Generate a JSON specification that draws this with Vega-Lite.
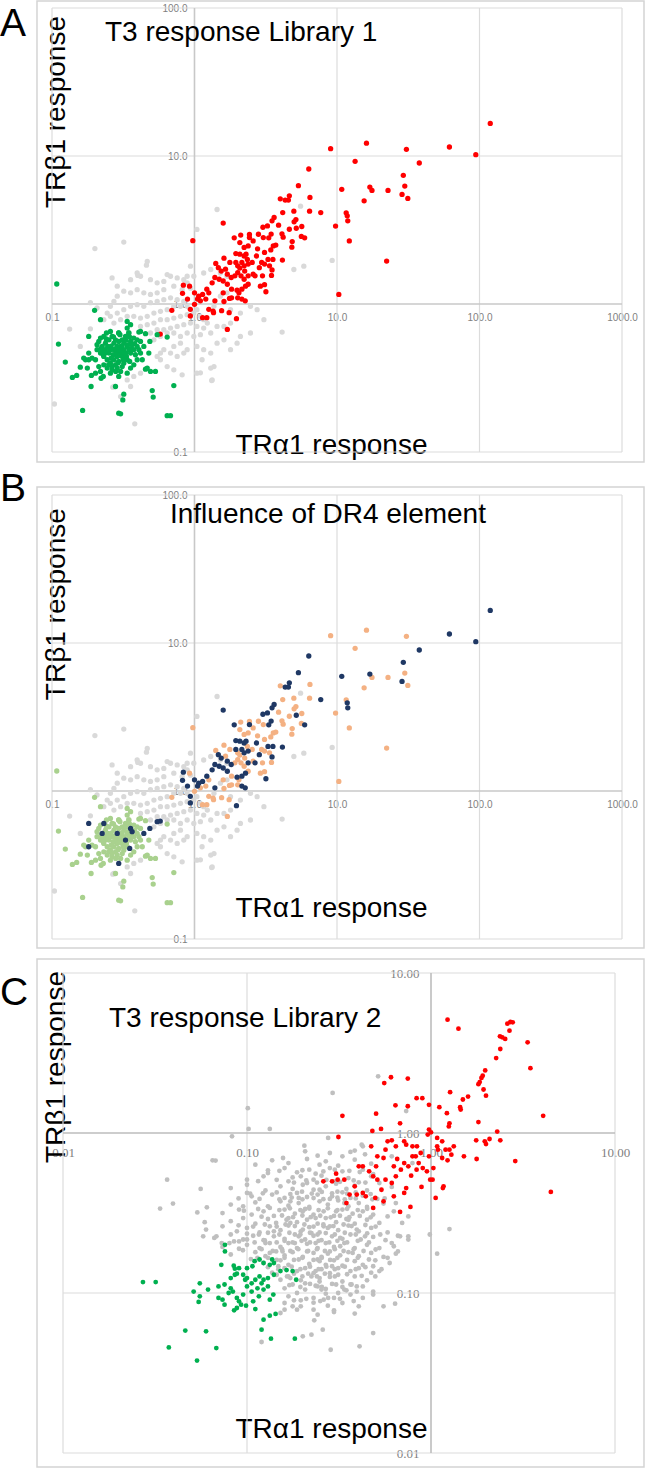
{
  "$schema": "https://vega.github.io/schema/vega-lite/v6.json",
  "background": "white",
  "width": 646,
  "height": 1469,
  "autosize": {"type": "none"},
  "padding": 0,
  "resolve": {
    "scale": {"x": "independent", "y": "independent", "color": "independent"},
    "axis": {"x": "independent", "y": "independent"}
  },
  "config": {
    "view": {"stroke": null},
    "axis": {"labelFont": "Liberation Sans", "titleFont": "Liberation Sans"},
    "text": {"font": "Liberation Sans"}
  },
  "datasets": {
    "grid1": [
      {"x": 0.1, "x2": 0.1, "y": 0.1, "y2": 100, "kind": "grid"},
      {"x": 10, "x2": 10, "y": 0.1, "y2": 100, "kind": "grid"},
      {"x": 100, "x2": 100, "y": 0.1, "y2": 100, "kind": "grid"},
      {"x": 1000, "x2": 1000, "y": 0.1, "y2": 100, "kind": "grid"},
      {"x": 0.1, "x2": 1000, "y": 0.1, "y2": 0.1, "kind": "grid"},
      {"x": 0.1, "x2": 1000, "y": 10, "y2": 10, "kind": "grid"},
      {"x": 0.1, "x2": 1000, "y": 100, "y2": 100, "kind": "grid"},
      {"x": 1, "x2": 1, "y": 0.1, "y2": 100, "kind": "axis"},
      {"x": 0.1, "x2": 1000, "y": 1, "y2": 1, "kind": "axis"}
    ],
    "grid2": [
      {"x": 0.01, "x2": 0.01, "y": 0.01, "y2": 10, "kind": "grid"},
      {"x": 0.1, "x2": 0.1, "y": 0.01, "y2": 10, "kind": "grid"},
      {"x": 10, "x2": 10, "y": 0.01, "y2": 10, "kind": "grid"},
      {"x": 0.01, "x2": 10, "y": 0.01, "y2": 0.01, "kind": "grid"},
      {"x": 0.01, "x2": 10, "y": 0.1, "y2": 0.1, "kind": "grid"},
      {"x": 0.01, "x2": 10, "y": 10, "y2": 10, "kind": "grid"},
      {"x": 1, "x2": 1, "y": 0.01, "y2": 10, "kind": "axis"},
      {"x": 0.01, "x2": 10, "y": 1, "y2": 1, "kind": "axis"}
    ],
    "lib1": [
      {"x":0.2,"y":2.37,"a":"none","b":"none"},{"x":0.319,"y":2.62,"a":"none","b":"none"},{"x":1.44,"y":4.35,"a":"none","b":"none"},{"x":1.04,"y":3.19,"a":"none","b":"none"},
      {"x":0.466,"y":1.94,"a":"none","b":"none"},{"x":0.46,"y":1.83,"a":"none","b":"none"},{"x":0.396,"y":1.62,"a":"none","b":"none"},{"x":0.4,"y":1.56,"a":"none","b":"none"},
      {"x":0.264,"y":1.5,"a":"none","b":"none"},{"x":0.287,"y":1.32,"a":"none","b":"none"},{"x":0.356,"y":1.46,"a":"none","b":"none"},{"x":0.418,"y":1.54,"a":"none","b":"none"},
      {"x":0.643,"y":1.58,"a":"none","b":"none"},{"x":0.679,"y":1.54,"a":"none","b":"none"},{"x":0.756,"y":1.5,"a":"none","b":"none"},{"x":0.491,"y":1.46,"a":"none","b":"none"},
      {"x":0.547,"y":1.39,"a":"none","b":"none"},{"x":0.609,"y":1.42,"a":"none","b":"none"},{"x":0.841,"y":1.46,"a":"none","b":"none"},{"x":0.888,"y":1.39,"a":"none","b":"none"},
      {"x":0.937,"y":1.28,"a":"none","b":"none"},{"x":0.819,"y":1.25,"a":"none","b":"none"},{"x":0.716,"y":1.32,"a":"none","b":"none"},{"x":0.609,"y":1.25,"a":"none","b":"none"},
      {"x":0.547,"y":1.19,"a":"none","b":"none"},{"x":0.491,"y":1.16,"a":"none","b":"none"},{"x":0.441,"y":1.19,"a":"none","b":"none"},{"x":0.396,"y":1.25,"a":"none","b":"none"},
      {"x":0.356,"y":1.19,"a":"none","b":"none"},{"x":0.319,"y":1.22,"a":"none","b":"none"},{"x":0.287,"y":1.13,"a":"none","b":"none"},{"x":0.272,"y":1.04,"a":"none","b":"none"},
      {"x":0.257,"y":0.964,"a":"none","b":"none"},{"x":0.186,"y":1.02,"a":"none","b":"none"},{"x":0.207,"y":0.94,"a":"none","b":"none"},{"x":0.244,"y":0.869,"a":"none","b":"none"},
      {"x":0.287,"y":0.869,"a":"none","b":"none"},{"x":0.319,"y":0.916,"a":"none","b":"none"},{"x":0.356,"y":0.964,"a":"none","b":"none"},{"x":0.396,"y":0.99,"a":"none","b":"none"},
      {"x":0.441,"y":0.964,"a":"none","b":"none"},{"x":0.491,"y":1.02,"a":"none","b":"none"},{"x":0.547,"y":1.04,"a":"none","b":"none"},{"x":0.609,"y":1.07,"a":"none","b":"none"},
      {"x":0.679,"y":1.1,"a":"none","b":"none"},{"x":0.756,"y":1.07,"a":"none","b":"none"},{"x":0.841,"y":1.04,"a":"none","b":"none"},{"x":0.888,"y":0.964,"a":"none","b":"none"},
      {"x":0.797,"y":0.964,"a":"none","b":"none"},{"x":0.716,"y":0.964,"a":"none","b":"none"},{"x":0.643,"y":0.916,"a":"none","b":"none"},{"x":0.577,"y":0.892,"a":"none","b":"none"},
      {"x":0.519,"y":0.869,"a":"none","b":"none"},{"x":0.466,"y":0.825,"a":"none","b":"none"},{"x":0.418,"y":0.804,"a":"none","b":"none"},{"x":0.375,"y":0.825,"a":"none","b":"none"},
      {"x":0.337,"y":0.825,"a":"none","b":"none"},{"x":0.303,"y":0.783,"a":"none","b":"none"},{"x":0.272,"y":0.743,"a":"none","b":"none"},{"x":0.418,"y":0.706,"a":"none","b":"none"},
      {"x":0.466,"y":0.725,"a":"none","b":"none"},{"x":0.519,"y":0.743,"a":"none","b":"none"},{"x":0.577,"y":0.783,"a":"none","b":"none"},{"x":0.643,"y":0.783,"a":"none","b":"none"},
      {"x":0.716,"y":0.804,"a":"none","b":"none"},{"x":0.797,"y":0.825,"a":"none","b":"none"},{"x":0.888,"y":0.847,"a":"none","b":"none"},{"x":0.989,"y":0.869,"a":"none","b":"none"},
      {"x":1.04,"y":0.916,"a":"none","b":"none"},{"x":1.1,"y":0.825,"a":"none","b":"none"},{"x":1.16,"y":0.783,"a":"none","b":"none"},{"x":1.23,"y":0.743,"a":"none","b":"none"},
      {"x":1.16,"y":0.688,"a":"none","b":"none"},{"x":1.04,"y":0.706,"a":"none","b":"none"},{"x":0.937,"y":0.743,"a":"none","b":"none"},{"x":0.841,"y":0.725,"a":"none","b":"none"},
      {"x":0.756,"y":0.706,"a":"none","b":"none"},{"x":0.679,"y":0.688,"a":"none","b":"none"},{"x":0.609,"y":0.67,"a":"none","b":"none"},{"x":0.547,"y":0.67,"a":"none","b":"none"},
      {"x":0.491,"y":0.637,"a":"none","b":"none"},{"x":0.519,"y":0.573,"a":"none","b":"none"},{"x":0.577,"y":0.604,"a":"none","b":"none"},{"x":0.643,"y":0.637,"a":"none","b":"none"},
      {"x":0.716,"y":0.637,"a":"none","b":"none"},{"x":0.797,"y":0.604,"a":"none","b":"none"},{"x":0.888,"y":0.637,"a":"none","b":"none"},{"x":0.989,"y":0.604,"a":"none","b":"none"},
      {"x":1.1,"y":0.62,"a":"none","b":"none"},{"x":0.797,"y":0.544,"a":"none","b":"none"},{"x":0.716,"y":0.517,"a":"none","b":"none"},{"x":0.609,"y":0.491,"a":"none","b":"none"},
      {"x":0.577,"y":0.466,"a":"none","b":"none"},{"x":0.547,"y":0.442,"a":"none","b":"none"},{"x":0.679,"y":0.466,"a":"none","b":"none"},{"x":0.756,"y":0.442,"a":"none","b":"none"},
      {"x":0.841,"y":0.466,"a":"none","b":"none"},{"x":0.888,"y":0.491,"a":"none","b":"none"},{"x":1.04,"y":0.517,"a":"none","b":"none"},{"x":1.16,"y":0.491,"a":"none","b":"none"},
      {"x":1.3,"y":0.466,"a":"none","b":"none"},{"x":1.13,"y":0.42,"a":"none","b":"none"},{"x":1.04,"y":0.341,"a":"none","b":"none"},{"x":1.33,"y":0.307,"a":"none","b":"none"},
      {"x":0.819,"y":0.332,"a":"none","b":"none"},{"x":0.716,"y":0.359,"a":"none","b":"none"},{"x":0.643,"y":0.378,"a":"none","b":"none"},{"x":0.577,"y":0.42,"a":"none","b":"none"},
      {"x":0.418,"y":0.341,"a":"none","b":"none"},{"x":0.375,"y":0.324,"a":"none","b":"none"},{"x":0.337,"y":0.307,"a":"none","b":"none"},{"x":0.356,"y":0.277,"a":"none","b":"none"},
      {"x":0.272,"y":0.277,"a":"none","b":"none"},{"x":0.303,"y":0.237,"a":"none","b":"none"},{"x":0.381,"y":0.155,"a":"none","b":"none"},{"x":0.104,"y":0.211,"a":"none","b":"none"},
      {"x":0.133,"y":0.677,"a":"none","b":"none"},{"x":0.186,"y":0.68,"a":"none","b":"none"},{"x":0.158,"y":0.517,"a":"none","b":"none"},{"x":0.257,"y":0.825,"a":"none","b":"none"},
      {"x":0.231,"y":0.783,"a":"none","b":"none"},{"x":1.3,"y":0.637,"a":"none","b":"none"},{"x":1.44,"y":0.706,"a":"none","b":"none"},{"x":1.61,"y":0.706,"a":"none","b":"none"},
      {"x":1.79,"y":0.743,"a":"none","b":"none"},{"x":2.1,"y":0.604,"a":"none","b":"none"},{"x":2.47,"y":0.637,"a":"none","b":"none"},{"x":1.99,"y":0.544,"a":"none","b":"none"},
      {"x":1.79,"y":0.491,"a":"none","b":"none"},{"x":1.61,"y":0.573,"a":"none","b":"none"},{"x":1.44,"y":0.544,"a":"none","b":"none"},{"x":1.37,"y":0.378,"a":"none","b":"none"},
      {"x":1.3,"y":0.369,"a":"none","b":"none"},{"x":1.79,"y":0.916,"a":"none","b":"none"},{"x":2.1,"y":0.869,"a":"none","b":"none"},{"x":2.47,"y":0.964,"a":"none","b":"none"},
      {"x":2.75,"y":0.916,"a":"none","b":"none"},{"x":3.07,"y":0.783,"a":"none","b":"none"},{"x":4.12,"y":0.646,"a":"none","b":"none"},{"x":5.85,"y":1.8,"a":"none","b":"none"},
      {"x":9.25,"y":1.97,"a":"none","b":"none"},{"x":4.98,"y":1.71,"a":"none","b":"none"},{"x":5.55,"y":4.58,"a":"none","b":"none"},{"x":1.69,"y":1.19,"a":"none","b":"none"},
      {"x":1.52,"y":1.13,"a":"none","b":"none"},{"x":1.37,"y":0.964,"a":"none","b":"none"},{"x":1.52,"y":1.62,"a":"none","b":"none"},{"x":1.69,"y":1.54,"a":"none","b":"none"},
      {"x":0.989,"y":1.54,"a":"none","b":"none"},{"x":1.16,"y":1.62,"a":"none","b":"none"},{"x":1.3,"y":1.71,"a":"none","b":"none"},{"x":0.937,"y":1.8,"a":"none","b":"none"},
      {"x":0.888,"y":1.54,"a":"none","b":"none"},{"x":1.32,"y":0.304,"a":"none","b":"none"},{"x":1.1,"y":0.343,"a":"none","b":"none"},{"x":0.267,"y":0.274,"a":"none","b":"none"},

      {"x":16.1,"y":12.2,"a":"up","b":"up"},{"x":9.02,"y":11.2,"a":"up","b":"up"},{"x":30.7,"y":11.1,"a":"up","b":"up"},{"x":13.4,"y":9.2,"a":"up","b":"up"},
      {"x":17.6,"y":5.85,"a":"up","b":"up"},{"x":22.8,"y":5.85,"a":"up","b":"up"},{"x":29.9,"y":6.26,"a":"up","b":"up"},{"x":31.4,"y":5.17,"a":"up","b":"up"},
      {"x":15.5,"y":4.98,"a":"up","b":"up"},{"x":6.46,"y":5.25,"a":"up","b":"up"},{"x":6.42,"y":4.24,"a":"up","b":"up"},{"x":11.6,"y":4.13,"a":"up","b":"up"},
      {"x":9.77,"y":3.36,"a":"up","b":"up"},{"x":12.2,"y":2.67,"a":"up","b":"up"},{"x":22.3,"y":1.95,"a":"up","b":"up"},{"x":10.3,"y":1.16,"a":"up","b":"up"},
      {"x":4.0,"y":5.14,"a":"up","b":"up"},{"x":4.98,"y":4.24,"a":"up","b":"up"},{"x":4.16,"y":4.15,"a":"up","b":"up"},{"x":0.973,"y":2.68,"a":"up","b":"up"},
      {"x":3.89,"y":3.41,"a":"up","b":"up"},{"x":4.63,"y":3.2,"a":"up","b":"up"},{"x":4.11,"y":2.98,"a":"up","b":"up"},{"x":4.19,"y":2.83,"a":"up","b":"up"},
      {"x":5.66,"y":3.34,"a":"up","b":"up"},{"x":5.62,"y":2.86,"a":"up","b":"up"},{"x":5.15,"y":3.72,"a":"up","b":"up"},{"x":5.0,"y":3.59,"a":"up","b":"up"},
      {"x":3.04,"y":2.81,"a":"up","b":"up"},{"x":2.11,"y":2.92,"a":"up","b":"up"},{"x":2.08,"y":2.6,"a":"up","b":"up"},{"x":2.77,"y":2.36,"a":"up","b":"up"},
      {"x":3.57,"y":2.47,"a":"up","b":"up"},{"x":3.72,"y":2.5,"a":"up","b":"up"},{"x":3.43,"y":2.32,"a":"up","b":"up"},{"x":3.1,"y":2.23,"a":"up","b":"up"},
      {"x":2.96,"y":1.91,"a":"up","b":"up"},{"x":4.82,"y":2.42,"a":"up","b":"up"},{"x":4.85,"y":2.64,"a":"up","b":"up"},{"x":2.38,"y":2.47,"a":"up","b":"up"},
      {"x":2.23,"y":2.41,"a":"up","b":"up"},{"x":2.35,"y":2.0,"a":"up","b":"up"},{"x":2.01,"y":1.81,"a":"up","b":"up"},{"x":2.08,"y":1.75,"a":"up","b":"up"},
      {"x":1.77,"y":1.91,"a":"up","b":"up"},{"x":1.61,"y":2.04,"a":"up","b":"up"},{"x":1.41,"y":1.88,"a":"up","b":"up"},{"x":1.65,"y":1.72,"a":"up","b":"up"},
      {"x":1.92,"y":1.55,"a":"up","b":"up"},{"x":2.01,"y":1.63,"a":"up","b":"up"},{"x":2.23,"y":1.47,"a":"up","b":"up"},{"x":2.38,"y":1.36,"a":"up","b":"up"},
      {"x":2.05,"y":1.19,"a":"up","b":"up"},{"x":1.82,"y":1.26,"a":"up","b":"up"},{"x":1.26,"y":1.19,"a":"up","b":"up"},{"x":0.923,"y":1.32,"a":"up","b":"up"},
      {"x":1.0,"y":0.995,"a":"up","b":"up"},{"x":1.1,"y":1.05,"a":"up","b":"up"},{"x":1.2,"y":1.08,"a":"up","b":"up"},{"x":1.26,"y":0.92,"a":"up","b":"up"},
      {"x":1.35,"y":0.896,"a":"up","b":"up"},{"x":1.61,"y":1.04,"a":"up","b":"up"},{"x":1.59,"y":1.19,"a":"up","b":"up"},{"x":1.76,"y":1.09,"a":"up","b":"up"},
      {"x":1.82,"y":1.1,"a":"up","b":"up"},{"x":2.01,"y":1.1,"a":"up","b":"up"},{"x":2.58,"y":1.59,"a":"up","b":"up"},{"x":3.1,"y":1.86,"a":"up","b":"up"},
      {"x":3.0,"y":1.55,"a":"up","b":"up"},{"x":3.1,"y":1.35,"a":"up","b":"up"},{"x":3.36,"y":1.81,"a":"up","b":"up"},{"x":3.47,"y":1.56,"a":"up","b":"up"},
      {"x":0.693,"y":0.906,"a":"up","b":"up"},{"x":1.14,"y":0.808,"a":"up","b":"up"},{"x":1.22,"y":0.808,"a":"up","b":"up"},{"x":1.36,"y":0.874,"a":"up","b":"up"},
      {"x":1.55,"y":0.901,"a":"up","b":"up"},{"x":1.75,"y":0.874,"a":"up","b":"up"},{"x":1.7,"y":0.673,"a":"up","b":"up"},{"x":2.43,"y":2.95,"a":"up","b":"up"},
      {"x":2.81,"y":2.96,"a":"up","b":"up"},{"x":2.58,"y":2.67,"a":"up","b":"up"},{"x":2.25,"y":1.67,"a":"up","b":"up"},{"x":2.54,"y":1.91,"a":"up","b":"up"},
      {"x":2.9,"y":1.32,"a":"up","b":"up"},{"x":2.12,"y":1.55,"a":"up","b":"up"},

      {"x":0.108,"y":1.365,"a":"down","b":"down"},{"x":0.111,"y":0.536,"a":"down","b":"down"},{"x":0.124,"y":0.405,"a":"down","b":"down"},{"x":0.139,"y":0.319,"a":"down","b":"down"},
      {"x":0.149,"y":0.329,"a":"down","b":"down"},{"x":0.164,"y":0.191,"a":"down","b":"down"},{"x":0.188,"y":0.277,"a":"down","b":"down"},{"x":0.221,"y":0.315,"a":"down","b":"down"},
      {"x":0.189,"y":0.329,"a":"down","b":"down"},{"x":0.158,"y":0.374,"a":"down","b":"down"},{"x":0.172,"y":0.42,"a":"down","b":"down"},{"x":0.181,"y":0.466,"a":"down","b":"down"},
      {"x":0.199,"y":0.906,"a":"down","b":"down"},{"x":0.219,"y":0.783,"a":"down","b":"down"},{"x":0.241,"y":0.637,"a":"down","b":"down"},{"x":0.257,"y":0.653,"a":"down","b":"down"},
      {"x":0.294,"y":0.637,"a":"down","b":"down"},{"x":0.337,"y":0.763,"a":"down","b":"down"},{"x":0.356,"y":0.725,"a":"down","b":"down"},{"x":0.337,"y":0.688,"a":"down","b":"down"},
      {"x":0.407,"y":0.646,"a":"down","b":"down"},{"x":0.418,"y":0.653,"a":"down","b":"down"},{"x":0.453,"y":0.63,"a":"down","b":"down"},{"x":0.643,"y":0.598,"a":"down","b":"down"},
      {"x":0.478,"y":0.466,"a":"down","b":"down"},{"x":0.466,"y":0.369,"a":"down","b":"down"},{"x":0.453,"y":0.363,"a":"down","b":"down"},{"x":0.491,"y":0.35,"a":"down","b":"down"},
      {"x":0.532,"y":0.35,"a":"down","b":"down"},{"x":0.505,"y":0.26,"a":"down","b":"down"},{"x":0.513,"y":0.235,"a":"down","b":"down"},{"x":0.716,"y":0.281,"a":"down","b":"down"},
      {"x":0.643,"y":0.176,"a":"down","b":"down"},{"x":0.679,"y":0.176,"a":"down","b":"down"},{"x":0.294,"y":0.183,"a":"down","b":"down"},{"x":0.303,"y":0.181,"a":"down","b":"down"},
      {"x":0.314,"y":0.225,"a":"down","b":"down"},{"x":0.319,"y":0.246,"a":"down","b":"down"},{"x":0.279,"y":0.277,"a":"down","b":"down"},{"x":0.229,"y":0.324,"a":"down","b":"down"},
      {"x":0.257,"y":0.341,"a":"down","b":"down"},{"x":0.337,"y":0.341,"a":"down","b":"down"},{"x":0.356,"y":0.369,"a":"down","b":"down"},{"x":0.375,"y":0.388,"a":"down","b":"down"},
      {"x":0.396,"y":0.42,"a":"down","b":"down"},{"x":0.418,"y":0.466,"a":"down","b":"down"},{"x":0.207,"y":0.491,"a":"down","b":"down"},{"x":0.202,"y":0.42,"a":"down","b":"down"},
      {"x":0.191,"y":0.431,"a":"down","b":"down"},{"x":0.213,"y":0.378,"a":"down","b":"down"},{"x":0.231,"y":0.388,"a":"down","b":"down"},{"x":0.244,"y":0.369,"a":"down","b":"down"},
      {"x":0.264,"y":0.359,"a":"down","b":"down"},{"x":0.287,"y":0.369,"a":"down","b":"down"},{"x":0.303,"y":0.35,"a":"down","b":"down"},{"x":0.311,"y":0.378,"a":"down","b":"down"},
      {"x":0.319,"y":0.398,"a":"down","b":"down"},{"x":0.337,"y":0.42,"a":"down","b":"down"},{"x":0.356,"y":0.466,"a":"down","b":"down"},{"x":0.375,"y":0.491,"a":"down","b":"down"},
      {"x":0.396,"y":0.517,"a":"down","b":"down"},{"x":0.418,"y":0.559,"a":"down","b":"down"},{"x":0.337,"y":0.517,"a":"down","b":"down"},{"x":0.319,"y":0.491,"a":"down","b":"down"},
      {"x":0.303,"y":0.466,"a":"down","b":"down"},{"x":0.287,"y":0.442,"a":"down","b":"down"},{"x":0.272,"y":0.42,"a":"down","b":"down"},{"x":0.257,"y":0.398,"a":"down","b":"down"},
      {"x":0.244,"y":0.42,"a":"down","b":"down"},{"x":0.231,"y":0.442,"a":"down","b":"down"},{"x":0.219,"y":0.466,"a":"down","b":"down"},{"x":0.237,"y":0.544,"a":"down","b":"down"},
      {"x":0.251,"y":0.573,"a":"down","b":"down"},{"x":0.264,"y":0.604,"a":"down","b":"down"},{"x":0.279,"y":0.573,"a":"down","b":"down"},{"x":0.294,"y":0.559,"a":"down","b":"down"},
      {"x":0.311,"y":0.573,"a":"down","b":"down"},{"x":0.328,"y":0.604,"a":"down","b":"down"},{"x":0.346,"y":0.637,"a":"down","b":"down"},{"x":0.375,"y":0.589,"a":"down","b":"down"},
      {"x":0.396,"y":0.573,"a":"down","b":"down"},{"x":0.346,"y":0.491,"a":"down","b":"down"},{"x":0.311,"y":0.442,"a":"down","b":"down"},{"x":0.294,"y":0.409,"a":"down","b":"down"},
      {"x":0.279,"y":0.388,"a":"down","b":"down"},{"x":0.264,"y":0.378,"a":"down","b":"down"},{"x":0.251,"y":0.466,"a":"down","b":"down"},{"x":0.237,"y":0.491,"a":"down","b":"down"},
      {"x":0.225,"y":0.478,"a":"down","b":"down"},{"x":0.213,"y":0.559,"a":"down","b":"down"},{"x":0.207,"y":0.531,"a":"down","b":"down"},{"x":0.219,"y":0.589,"a":"down","b":"down"},
      {"x":0.257,"y":0.491,"a":"down","b":"down"},{"x":0.272,"y":0.491,"a":"down","b":"down"},{"x":0.303,"y":0.517,"a":"down","b":"down"},{"x":0.319,"y":0.544,"a":"down","b":"down"},
      {"x":0.272,"y":0.544,"a":"down","b":"down"},{"x":0.246,"y":0.517,"a":"down","b":"down"},{"x":0.269,"y":0.454,"a":"down","b":"down"},{"x":0.284,"y":0.471,"a":"down","b":"down"},
      {"x":0.299,"y":0.486,"a":"down","b":"down"},{"x":0.316,"y":0.42,"a":"down","b":"down"},{"x":0.333,"y":0.442,"a":"down","b":"down"},{"x":0.385,"y":0.454,"a":"down","b":"down"},
      {"x":0.407,"y":0.491,"a":"down","b":"down"},{"x":0.43,"y":0.42,"a":"down","b":"down"},{"x":0.167,"y":0.431,"a":"down","b":"down"},{"x":0.177,"y":0.369,"a":"down","b":"down"},
      {"x":0.202,"y":0.341,"a":"down","b":"down"},{"x":0.219,"y":0.35,"a":"down","b":"down"},{"x":0.294,"y":0.637,"a":"down","b":"down"},{"x":0.346,"y":0.637,"a":"down","b":"down"},
      {"x":0.24,"y":0.47,"a":"down","b":"down"},{"x":0.26,"y":0.52,"a":"down","b":"down"},{"x":0.28,"y":0.5,"a":"down","b":"down"},{"x":0.3,"y":0.45,"a":"down","b":"down"},
      {"x":0.32,"y":0.47,"a":"down","b":"down"},{"x":0.34,"y":0.53,"a":"down","b":"down"},{"x":0.36,"y":0.5,"a":"down","b":"down"},{"x":0.26,"y":0.43,"a":"down","b":"down"},
      {"x":0.29,"y":0.4,"a":"down","b":"down"},{"x":0.31,"y":0.52,"a":"down","b":"down"},{"x":0.33,"y":0.57,"a":"down","b":"down"},{"x":0.24,"y":0.58,"a":"down","b":"down"},
      {"x":0.27,"y":0.6,"a":"down","b":"down"},{"x":0.35,"y":0.6,"a":"down","b":"down"},{"x":0.38,"y":0.54,"a":"down","b":"down"},{"x":0.3,"y":0.62,"a":"down","b":"down"},
      {"x":0.22,"y":0.5,"a":"down","b":"down"},{"x":0.25,"y":0.39,"a":"down","b":"down"},{"x":0.28,"y":0.35,"a":"down","b":"down"},{"x":0.23,"y":0.45,"a":"down","b":"down"},

      {"x":119,"y":16.6,"a":"up","b":"dr4"},{"x":61.5,"y":11.5,"a":"up","b":"dr4"},{"x":94.2,"y":10.2,"a":"up","b":"dr4"},{"x":37.8,"y":8.97,"a":"up","b":"dr4"},
      {"x":6.34,"y":8.17,"a":"up","b":"dr4"},{"x":29.2,"y":7.4,"a":"up","b":"dr4"},{"x":10.8,"y":5.95,"a":"up","b":"dr4"},{"x":17.0,"y":6.17,"a":"up","b":"dr4"},
      {"x":5.36,"y":6.3,"a":"up","b":"dr4"},{"x":28.6,"y":5.5,"a":"up","b":"dr4"},{"x":7.69,"y":4.15,"a":"up","b":"dr4"},{"x":11.8,"y":3.94,"a":"up","b":"dr4"},
      {"x":11.9,"y":3.65,"a":"up","b":"dr4"},{"x":4.33,"y":5.04,"a":"up","b":"dr4"},{"x":4.63,"y":5.38,"a":"up","b":"dr4"},{"x":4.56,"y":5.04,"a":"up","b":"dr4"},
      {"x":1.59,"y":3.52,"a":"up","b":"dr4"},{"x":3.62,"y":3.84,"a":"up","b":"dr4"},{"x":3.5,"y":3.65,"a":"up","b":"dr4"},{"x":3.25,"y":3.37,"a":"up","b":"dr4"},
      {"x":3.02,"y":3.3,"a":"up","b":"dr4"},{"x":5.93,"y":2.8,"a":"up","b":"dr4"},{"x":5.18,"y":3.25,"a":"up","b":"dr4"},{"x":3.45,"y":2.97,"a":"up","b":"dr4"},
      {"x":3.32,"y":2.8,"a":"up","b":"dr4"},{"x":2.43,"y":2.81,"a":"up","b":"dr4"},{"x":1.9,"y":2.8,"a":"up","b":"dr4"},{"x":3.28,"y":2.0,"a":"up","b":"dr4"},
      {"x":3.55,"y":2.0,"a":"up","b":"dr4"},{"x":4.14,"y":1.98,"a":"up","b":"dr4"},{"x":1.95,"y":2.19,"a":"up","b":"dr4"},{"x":2.08,"y":2.17,"a":"up","b":"dr4"},
      {"x":2.23,"y":2.11,"a":"up","b":"dr4"},{"x":2.3,"y":2.17,"a":"up","b":"dr4"},{"x":2.15,"y":1.91,"a":"up","b":"dr4"},{"x":1.95,"y":1.91,"a":"up","b":"dr4"},
      {"x":2.23,"y":1.81,"a":"up","b":"dr4"},{"x":2.38,"y":1.86,"a":"up","b":"dr4"},{"x":1.47,"y":1.76,"a":"up","b":"dr4"},{"x":1.54,"y":1.67,"a":"up","b":"dr4"},
      {"x":1.7,"y":1.59,"a":"up","b":"dr4"},{"x":1.81,"y":1.51,"a":"up","b":"dr4"},{"x":2.38,"y":1.55,"a":"up","b":"dr4"},{"x":2.28,"y":1.32,"a":"up","b":"dr4"},
      {"x":2.15,"y":1.26,"a":"up","b":"dr4"},{"x":1.99,"y":1.24,"a":"up","b":"dr4"},{"x":1.7,"y":1.36,"a":"up","b":"dr4"},{"x":1.59,"y":1.43,"a":"up","b":"dr4"},
      {"x":1.49,"y":1.47,"a":"up","b":"dr4"},{"x":1.39,"y":1.51,"a":"up","b":"dr4"},{"x":1.33,"y":1.39,"a":"up","b":"dr4"},{"x":1.22,"y":1.26,"a":"up","b":"dr4"},
      {"x":1.14,"y":1.16,"a":"up","b":"dr4"},{"x":1.07,"y":1.13,"a":"up","b":"dr4"},{"x":1.0,"y":1.19,"a":"up","b":"dr4"},{"x":0.893,"y":1.08,"a":"up","b":"dr4"},
      {"x":0.935,"y":0.92,"a":"up","b":"dr4"},{"x":1.05,"y":1.08,"a":"up","b":"dr4"},{"x":1.39,"y":1.05,"a":"up","b":"dr4"},{"x":2.15,"y":1.08,"a":"up","b":"dr4"},
      {"x":2.27,"y":1.05,"a":"up","b":"dr4"},{"x":2.66,"y":1.55,"a":"up","b":"dr4"},{"x":2.85,"y":1.76,"a":"up","b":"dr4"},{"x":3.17,"y":1.21,"a":"up","b":"dr4"},
      {"x":3.5,"y":1.7,"a":"up","b":"dr4"},{"x":0.835,"y":1.34,"a":"up","b":"dr4"},{"x":0.824,"y":1.18,"a":"up","b":"dr4"},{"x":0.935,"y":0.83,"a":"up","b":"dr4"},
      {"x":1.97,"y":0.796,"a":"up","b":"dr4"},{"x":0.575,"y":0.626,"a":"up","b":"dr4"},{"x":2.72,"y":2.11,"a":"up","b":"dr4"},
      {"x":0.181,"y":0.604,"a":"down","b":"dr4"},{"x":0.231,"y":0.604,"a":"down","b":"dr4"},{"x":0.225,"y":0.517,"a":"down","b":"dr4"},{"x":0.287,"y":0.517,"a":"down","b":"dr4"},
      {"x":0.328,"y":0.466,"a":"down","b":"dr4"},{"x":0.356,"y":0.559,"a":"down","b":"dr4"},{"x":0.365,"y":0.531,"a":"down","b":"dr4"},{"x":0.351,"y":0.409,"a":"down","b":"dr4"},
      {"x":0.294,"y":0.324,"a":"down","b":"dr4"},{"x":0.181,"y":0.42,"a":"down","b":"dr4"},{"x":0.441,"y":0.517,"a":"down","b":"dr4"},{"x":0.486,"y":0.559,"a":"down","b":"dr4"},
      {"x":0.547,"y":0.62,"a":"down","b":"dr4"}
    ],
    "lib2": [
      {"x":0.516,"y":2.26,"g":"none"},{"x":0.292,"y":1.78,"g":"none"},{"x":0.101,"y":1.43,"g":"none"},{"x":0.102,"y":1.06,"g":"none"},{"x":0.133,"y":1.06,"g":"none"},
      {"x":0.0829,"y":0.953,"g":"none"},{"x":0.205,"y":0.833,"g":"none"},{"x":0.276,"y":0.931,"g":"none"},{"x":0.385,"y":0.776,"g":"none"},{"x":0.42,"y":0.845,"g":"none"},
      {"x":0.733,"y":1.37,"g":"none"},{"x":0.0368,"y":0.511,"g":"none"},{"x":0.056,"y":0.447,"g":"none"},{"x":0.0396,"y":0.362,"g":"none"},{"x":0.0337,"y":0.337,"g":"none"},
      {"x":0.0537,"y":0.319,"g":"none"},{"x":0.0605,"y":0.343,"g":"none"},{"x":0.0589,"y":0.277,"g":"none"},{"x":0.0578,"y":0.226,"g":"none"},{"x":0.065,"y":0.675,"g":"none"},
      {"x":0.0675,"y":0.672,"g":"none"},{"x":0.157,"y":0.698,"g":"none"},{"x":0.177,"y":0.528,"g":"none"},{"x":0.13,"y":0.584,"g":"none"},{"x":0.1,"y":0.422,"g":"none"},
      {"x":0.104,"y":0.418,"g":"none"},{"x":0.0953,"y":0.348,"g":"none"},{"x":0.0962,"y":0.327,"g":"none"},{"x":1.26,"y":0.251,"g":"none"},{"x":0.985,"y":0.232,"g":"none"},
      {"x":1.08,"y":0.176,"g":"none"},{"x":0.552,"y":0.0825,"g":"none"},{"x":0.638,"y":0.0858,"g":"none"},{"x":0.485,"y":0.102,"g":"none"},{"x":0.485,"y":0.0562,"g":"none"},
      {"x":0.409,"y":0.0464,"g":"none"},{"x":0.285,"y":0.0442,"g":"none"},{"x":0.258,"y":0.059,"g":"none"},{"x":0.224,"y":0.0549,"g":"none"},{"x":0.201,"y":0.0536,"g":"none"},
      {"x":0.12,"y":0.0494,"g":"none"},{"x":0.232,"y":0.0675,"g":"none"},{"x":0.297,"y":0.0761,"g":"none"},{"x":0.276,"y":0.0931,"g":"none"},{"x":0.261,"y":0.0908,"g":"none"},
      {"x":0.196,"y":0.09,"g":"none"},{"x":0.16,"y":0.0787,"g":"none"},{"x":0.177,"y":0.0825,"g":"none"},{"x":0.23,"y":0.0787,"g":"none"},{"x":0.679,"y":0.226,"g":"none"},
      {"x":0.753,"y":0.226,"g":"none"},{"x":0.628,"y":0.196,"g":"none"},{"x":0.661,"y":0.182,"g":"none"},{"x":0.596,"y":0.154,"g":"none"},{"x":0.524,"y":0.137,"g":"none"},
      {"x":0.485,"y":0.147,"g":"none"},{"x":0.426,"y":0.11,"g":"none"},{"x":0.395,"y":0.102,"g":"none"},{"x":0.365,"y":0.113,"g":"none"},{"x":0.338,"y":0.105,"g":"none"},
      {"x":0.313,"y":0.1,"g":"none"},{"x":0.254,"y":0.105,"g":"none"},{"x":0.242,"y":0.11,"g":"none"},{"x":0.236,"y":0.137,"g":"none"},{"x":0.0682,"y":0.226,"g":"none"},
      {"x":0.0729,"y":0.205,"g":"none"},{"x":0.0803,"y":0.205,"g":"none"},{"x":0.0905,"y":0.21,"g":"none"},{"x":0.1,"y":0.216,"g":"none"},
      {"x":0.207,"y":0.768,"g":"none"},{"x":0.242,"y":0.722,"g":"none"},{"x":0.282,"y":0.75,"g":"none"},{"x":0.33,"y":0.715,"g":"none"},{"x":0.365,"y":0.762,"g":"none"},{"x":0.438,"y":0.736,"g":"none"},
      {"x":0.111,"y":0.634,"g":"none"},{"x":0.137,"y":0.675,"g":"none"},{"x":0.168,"y":0.649,"g":"none"},{"x":0.212,"y":0.688,"g":"none"},{"x":0.248,"y":0.634,"g":"none"},{"x":0.268,"y":0.665,"g":"none"},{"x":0.313,"y":0.625,"g":"none"},{"x":0.385,"y":0.681,"g":"none"},{"x":0.473,"y":0.643,"g":"none"},
      {"x":0.13,"y":0.562,"g":"none"},{"x":0.16,"y":0.604,"g":"none"},{"x":0.187,"y":0.568,"g":"none"},{"x":0.218,"y":0.59,"g":"none"},{"x":0.236,"y":0.557,"g":"none"},{"x":0.282,"y":0.604,"g":"none"},{"x":0.33,"y":0.576,"g":"none"},{"x":0.426,"y":0.59,"g":"none"},{"x":0.485,"y":0.554,"g":"none"},
      {"x":0.1,"y":0.511,"g":"none"},{"x":0.123,"y":0.536,"g":"none"},{"x":0.168,"y":0.499,"g":"none"},{"x":0.196,"y":0.536,"g":"none"},{"x":0.23,"y":0.511,"g":"none"},{"x":0.254,"y":0.541,"g":"none"},{"x":0.297,"y":0.499,"g":"none"},{"x":0.356,"y":0.523,"g":"none"},{"x":0.405,"y":0.492,"g":"none"},{"x":0.473,"y":0.536,"g":"none"},
      {"x":0.0816,"y":0.453,"g":"none"},{"x":0.1,"y":0.475,"g":"none"},{"x":0.126,"y":0.437,"g":"none"},{"x":0.152,"y":0.464,"g":"none"},{"x":0.177,"y":0.447,"g":"none"},{"x":0.201,"y":0.475,"g":"none"},{"x":0.23,"y":0.442,"g":"none"},{"x":0.268,"y":0.464,"g":"none"},{"x":0.305,"y":0.482,"g":"none"},{"x":0.347,"y":0.447,"g":"none"},{"x":0.385,"y":0.468,"g":"none"},{"x":0.449,"y":0.437,"g":"none"},{"x":0.612,"y":0.46,"g":"none"},
      {"x":0.106,"y":0.402,"g":"none"},{"x":0.117,"y":0.387,"g":"none"},{"x":0.137,"y":0.412,"g":"none"},{"x":0.16,"y":0.393,"g":"none"},{"x":0.187,"y":0.422,"g":"none"},{"x":0.212,"y":0.398,"g":"none"},{"x":0.242,"y":0.412,"g":"none"},{"x":0.282,"y":0.387,"g":"none"},{"x":0.33,"y":0.426,"g":"none"},{"x":0.365,"y":0.393,"g":"none"},{"x":0.426,"y":0.406,"g":"none"},{"x":0.511,"y":0.387,"g":"none"},
      {"x":0.0816,"y":0.357,"g":"none"},{"x":0.111,"y":0.368,"g":"none"},{"x":0.13,"y":0.348,"g":"none"},{"x":0.152,"y":0.374,"g":"none"},{"x":0.168,"y":0.351,"g":"none"},{"x":0.191,"y":0.365,"g":"none"},{"x":0.218,"y":0.345,"g":"none"},{"x":0.248,"y":0.374,"g":"none"},{"x":0.275,"y":0.357,"g":"none"},{"x":0.313,"y":0.379,"g":"none"},{"x":0.356,"y":0.348,"g":"none"},{"x":0.405,"y":0.365,"g":"none"},{"x":0.449,"y":0.345,"g":"none"},{"x":0.552,"y":0.362,"g":"none"},
      {"x":0.0736,"y":0.316,"g":"none"},{"x":0.0905,"y":0.332,"g":"none"},{"x":0.106,"y":0.309,"g":"none"},{"x":0.123,"y":0.324,"g":"none"},{"x":0.14,"y":0.303,"g":"none"},{"x":0.16,"y":0.332,"g":"none"},{"x":0.182,"y":0.313,"g":"none"},{"x":0.207,"y":0.335,"g":"none"},{"x":0.23,"y":0.309,"g":"none"},{"x":0.261,"y":0.324,"g":"none"},{"x":0.297,"y":0.303,"g":"none"},{"x":0.33,"y":0.332,"g":"none"},{"x":0.375,"y":0.313,"g":"none"},{"x":0.426,"y":0.324,"g":"none"},{"x":0.485,"y":0.309,"g":"none"},{"x":0.628,"y":0.324,"g":"none"},
      {"x":0.0816,"y":0.281,"g":"none"},{"x":0.0953,"y":0.294,"g":"none"},{"x":0.111,"y":0.271,"g":"none"},{"x":0.13,"y":0.29,"g":"none"},{"x":0.144,"y":0.274,"g":"none"},{"x":0.168,"y":0.294,"g":"none"},{"x":0.187,"y":0.277,"g":"none"},{"x":0.212,"y":0.287,"g":"none"},{"x":0.242,"y":0.271,"g":"none"},{"x":0.268,"y":0.294,"g":"none"},{"x":0.305,"y":0.277,"g":"none"},{"x":0.347,"y":0.29,"g":"none"},{"x":0.385,"y":0.271,"g":"none"},{"x":0.449,"y":0.287,"g":"none"},{"x":0.524,"y":0.274,"g":"none"},
      {"x":0.0599,"y":0.249,"g":"none"},{"x":0.0736,"y":0.261,"g":"none"},{"x":0.0881,"y":0.243,"g":"none"},{"x":0.1,"y":0.255,"g":"none"},{"x":0.117,"y":0.239,"g":"none"},{"x":0.133,"y":0.261,"g":"none"},{"x":0.152,"y":0.247,"g":"none"},{"x":0.168,"y":0.264,"g":"none"},{"x":0.196,"y":0.243,"g":"none"},{"x":0.218,"y":0.258,"g":"none"},{"x":0.248,"y":0.239,"g":"none"},{"x":0.282,"y":0.261,"g":"none"},{"x":0.313,"y":0.247,"g":"none"},{"x":0.356,"y":0.264,"g":"none"},{"x":0.405,"y":0.243,"g":"none"},{"x":0.473,"y":0.255,"g":"none"},{"x":0.581,"y":0.239,"g":"none"},
      {"x":0.0664,"y":0.221,"g":"none"},{"x":0.0816,"y":0.232,"g":"none"},{"x":0.0953,"y":0.216,"g":"none"},{"x":0.108,"y":0.228,"g":"none"},{"x":0.123,"y":0.214,"g":"none"},{"x":0.14,"y":0.226,"g":"none"},{"x":0.16,"y":0.218,"g":"none"},{"x":0.182,"y":0.232,"g":"none"},{"x":0.207,"y":0.216,"g":"none"},{"x":0.23,"y":0.228,"g":"none"},{"x":0.254,"y":0.214,"g":"none"},{"x":0.29,"y":0.226,"g":"none"},{"x":0.33,"y":0.218,"g":"none"},{"x":0.365,"y":0.232,"g":"none"},{"x":0.415,"y":0.216,"g":"none"},{"x":0.485,"y":0.224,"g":"none"},{"x":0.566,"y":0.214,"g":"none"},{"x":0.661,"y":0.228,"g":"none"},{"x":0.753,"y":0.216,"g":"none"},
      {"x":0.0736,"y":0.194,"g":"none"},{"x":0.0905,"y":0.189,"g":"none"},{"x":0.1,"y":0.2,"g":"none"},{"x":0.117,"y":0.191,"g":"none"},{"x":0.133,"y":0.205,"g":"none"},{"x":0.152,"y":0.194,"g":"none"},{"x":0.168,"y":0.205,"g":"none"},{"x":0.187,"y":0.191,"g":"none"},{"x":0.212,"y":0.203,"g":"none"},{"x":0.242,"y":0.191,"g":"none"},{"x":0.268,"y":0.205,"g":"none"},{"x":0.297,"y":0.194,"g":"none"},{"x":0.338,"y":0.205,"g":"none"},{"x":0.385,"y":0.191,"g":"none"},{"x":0.449,"y":0.2,"g":"none"},{"x":0.524,"y":0.191,"g":"none"},{"x":0.612,"y":0.205,"g":"none"},
      {"x":0.0816,"y":0.174,"g":"none"},{"x":0.111,"y":0.18,"g":"none"},{"x":0.126,"y":0.17,"g":"none"},{"x":0.144,"y":0.182,"g":"none"},{"x":0.16,"y":0.172,"g":"none"},{"x":0.177,"y":0.18,"g":"none"},{"x":0.201,"y":0.168,"g":"none"},{"x":0.23,"y":0.178,"g":"none"},{"x":0.254,"y":0.168,"g":"none"},{"x":0.282,"y":0.182,"g":"none"},{"x":0.321,"y":0.172,"g":"none"},{"x":0.356,"y":0.18,"g":"none"},{"x":0.405,"y":0.17,"g":"none"},{"x":0.473,"y":0.178,"g":"none"},{"x":0.552,"y":0.168,"g":"none"},{"x":0.644,"y":0.176,"g":"none"},
      {"x":0.123,"y":0.154,"g":"none"},{"x":0.152,"y":0.16,"g":"none"},{"x":0.168,"y":0.15,"g":"none"},{"x":0.191,"y":0.162,"g":"none"},{"x":0.218,"y":0.152,"g":"none"},{"x":0.242,"y":0.162,"g":"none"},{"x":0.268,"y":0.15,"g":"none"},{"x":0.297,"y":0.16,"g":"none"},{"x":0.33,"y":0.148,"g":"none"},{"x":0.385,"y":0.158,"g":"none"},{"x":0.426,"y":0.15,"g":"none"},{"x":0.498,"y":0.16,"g":"none"},{"x":0.581,"y":0.166,"g":"none"},
      {"x":0.137,"y":0.134,"g":"none"},{"x":0.16,"y":0.143,"g":"none"},{"x":0.187,"y":0.137,"g":"none"},{"x":0.207,"y":0.143,"g":"none"},{"x":0.23,"y":0.133,"g":"none"},{"x":0.254,"y":0.141,"g":"none"},{"x":0.282,"y":0.133,"g":"none"},{"x":0.313,"y":0.143,"g":"none"},{"x":0.365,"y":0.137,"g":"none"},{"x":0.405,"y":0.143,"g":"none"},{"x":0.473,"y":0.134,"g":"none"},{"x":0.538,"y":0.141,"g":"none"},
      {"x":0.152,"y":0.121,"g":"none"},{"x":0.168,"y":0.127,"g":"none"},{"x":0.196,"y":0.12,"g":"none"},{"x":0.224,"y":0.127,"g":"none"},{"x":0.248,"y":0.118,"g":"none"},{"x":0.282,"y":0.126,"g":"none"},{"x":0.33,"y":0.118,"g":"none"},{"x":0.385,"y":0.127,"g":"none"},{"x":0.449,"y":0.12,"g":"none"},{"x":0.498,"y":0.127,"g":"none"},
      {"x":0.16,"y":0.107,"g":"none"},{"x":0.177,"y":0.113,"g":"none"},{"x":0.207,"y":0.105,"g":"none"},{"x":0.236,"y":0.111,"g":"none"},{"x":0.268,"y":0.106,"g":"none"},{"x":0.305,"y":0.113,"g":"none"},{"x":0.347,"y":0.104,"g":"none"},{"x":0.395,"y":0.11,"g":"none"},
      {"x":0.168,"y":0.0953,"g":"none"},{"x":0.187,"y":0.1,"g":"none"},{"x":0.23,"y":0.0931,"g":"none"},{"x":0.268,"y":0.099,"g":"none"},{"x":0.297,"y":0.0931,"g":"none"},{"x":0.365,"y":0.0977,"g":"none"},{"x":0.426,"y":0.0931,"g":"none"},{"x":0.485,"y":0.0977,"g":"none"},
      {"x":0.16,"y":0.0866,"g":"none"},{"x":0.196,"y":0.0825,"g":"none"},{"x":0.23,"y":0.087,"g":"none"},{"x":0.275,"y":0.0833,"g":"none"},{"x":0.33,"y":0.0866,"g":"none"},{"x":0.405,"y":0.0825,"g":"none"},
      {"x":0.152,"y":0.075,"g":"none"},{"x":0.187,"y":0.0787,"g":"none"},{"x":0.242,"y":0.0732,"g":"none"},{"x":0.297,"y":0.0779,"g":"none"},{"x":0.385,"y":0.0744,"g":"none"},
      {"x":0.426,"y":0.825,"g":"none"},{"x":0.612,"y":0.715,"g":"none"},{"x":0.793,"y":0.649,"g":"none"},{"x":0.524,"y":0.487,"g":"none"},{"x":0.644,"y":0.365,"g":"none"},{"x":0.753,"y":0.301,"g":"none"},{"x":0.581,"y":0.301,"g":"none"},{"x":0.697,"y":0.274,"g":"none"},
      {"x":0.172,"y":0.374,"g":"none"},{"x":0.201,"y":0.324,"g":"none"},{"x":0.236,"y":0.294,"g":"none"},{"x":0.275,"y":0.255,"g":"none"},{"x":0.321,"y":0.221,"g":"none"},{"x":0.201,"y":0.249,"g":"none"},{"x":0.236,"y":0.205,"g":"none"},{"x":0.275,"y":0.176,"g":"none"},
      {"x":0.321,"y":0.196,"g":"none"},{"x":0.375,"y":0.178,"g":"none"},{"x":0.182,"y":0.205,"g":"none"},{"x":0.212,"y":0.182,"g":"none"},{"x":0.248,"y":0.158,"g":"none"},{"x":0.29,"y":0.147,"g":"none"},{"x":0.172,"y":0.274,"g":"none"},{"x":0.191,"y":0.226,"g":"none"},
      {"x":0.224,"y":0.237,"g":"none"},{"x":0.261,"y":0.261,"g":"none"},{"x":0.305,"y":0.324,"g":"none"},{"x":0.356,"y":0.287,"g":"none"},{"x":0.395,"y":0.249,"g":"none"},{"x":0.438,"y":0.226,"g":"none"},{"x":0.338,"y":0.365,"g":"none"},{"x":0.29,"y":0.402,"g":"none"},
      {"x":0.248,"y":0.442,"g":"none"},{"x":0.212,"y":0.487,"g":"none"},{"x":0.191,"y":0.393,"g":"none"},{"x":0.164,"y":0.287,"g":"none"},{"x":0.14,"y":0.243,"g":"none"},{"x":0.126,"y":0.205,"g":"none"},{"x":0.114,"y":0.166,"g":"none"},{"x":0.133,"y":0.178,"g":"none"},
      {"x":0.156,"y":0.182,"g":"none"},{"x":0.148,"y":0.147,"g":"none"},{"x":0.172,"y":0.124,"g":"none"},{"x":0.207,"y":0.115,"g":"none"},{"x":0.248,"y":0.124,"g":"none"},{"x":0.313,"y":0.13,"g":"none"},
      {"x":0.115,"y":0.5,"g":"none"},{"x":0.145,"y":0.51,"g":"none"},{"x":0.18,"y":0.49,"g":"none"},{"x":0.21,"y":0.505,"g":"none"},{"x":0.24,"y":0.49,"g":"none"},{"x":0.27,"y":0.51,"g":"none"},{"x":0.32,"y":0.495,"g":"none"},{"x":0.38,"y":0.505,"g":"none"},{"x":0.44,"y":0.49,"g":"none"},
      {"x":0.15,"y":0.58,"g":"none"},{"x":0.2,"y":0.585,"g":"none"},{"x":0.26,"y":0.575,"g":"none"},{"x":0.3,"y":0.59,"g":"none"},{"x":0.36,"y":0.58,"g":"none"},{"x":0.41,"y":0.57,"g":"none"},
      {"x":0.122,"y":0.42,"g":"none"},{"x":0.145,"y":0.425,"g":"none"},{"x":0.172,"y":0.415,"g":"none"},{"x":0.199,"y":0.43,"g":"none"},{"x":0.225,"y":0.418,"g":"none"},{"x":0.255,"y":0.428,"g":"none"},{"x":0.29,"y":0.42,"g":"none"},{"x":0.31,"y":0.43,"g":"none"},{"x":0.35,"y":0.418,"g":"none"},{"x":0.39,"y":0.425,"g":"none"},{"x":0.47,"y":0.415,"g":"none"},
      {"x":0.09,"y":0.39,"g":"none"},{"x":0.15,"y":0.385,"g":"none"},{"x":0.175,"y":0.395,"g":"none"},{"x":0.2,"y":0.385,"g":"none"},{"x":0.23,"y":0.392,"g":"none"},{"x":0.26,"y":0.386,"g":"none"},{"x":0.31,"y":0.394,"g":"none"},{"x":0.34,"y":0.385,"g":"none"},{"x":0.39,"y":0.39,"g":"none"},{"x":0.48,"y":0.385,"g":"none"},{"x":0.56,"y":0.39,"g":"none"},
      {"x":0.115,"y":0.335,"g":"none"},{"x":0.133,"y":0.34,"g":"none"},{"x":0.15,"y":0.33,"g":"none"},{"x":0.171,"y":0.338,"g":"none"},{"x":0.195,"y":0.33,"g":"none"},{"x":0.218,"y":0.337,"g":"none"},{"x":0.245,"y":0.33,"g":"none"},{"x":0.275,"y":0.338,"g":"none"},{"x":0.31,"y":0.33,"g":"none"},{"x":0.35,"y":0.336,"g":"none"},{"x":0.4,"y":0.33,"g":"none"},{"x":0.45,"y":0.336,"g":"none"},
      {"x":0.12,"y":0.3,"g":"none"},{"x":0.155,"y":0.305,"g":"none"},{"x":0.178,"y":0.298,"g":"none"},{"x":0.2,"y":0.305,"g":"none"},{"x":0.222,"y":0.298,"g":"none"},{"x":0.25,"y":0.304,"g":"none"},{"x":0.285,"y":0.297,"g":"none"},{"x":0.32,"y":0.304,"g":"none"},{"x":0.36,"y":0.298,"g":"none"},{"x":0.41,"y":0.303,"g":"none"},{"x":0.47,"y":0.297,"g":"none"},
      {"x":0.09,"y":0.265,"g":"none"},{"x":0.108,"y":0.26,"g":"none"},{"x":0.125,"y":0.268,"g":"none"},{"x":0.145,"y":0.26,"g":"none"},{"x":0.162,"y":0.268,"g":"none"},{"x":0.182,"y":0.262,"g":"none"},{"x":0.205,"y":0.268,"g":"none"},{"x":0.23,"y":0.26,"g":"none"},{"x":0.26,"y":0.268,"g":"none"},{"x":0.295,"y":0.262,"g":"none"},{"x":0.335,"y":0.268,"g":"none"},{"x":0.37,"y":0.262,"g":"none"},{"x":0.44,"y":0.266,"g":"none"},{"x":0.5,"y":0.26,"g":"none"},
      {"x":0.1,"y":0.235,"g":"none"},{"x":0.116,"y":0.232,"g":"none"},{"x":0.13,"y":0.238,"g":"none"},{"x":0.15,"y":0.232,"g":"none"},{"x":0.17,"y":0.238,"g":"none"},{"x":0.195,"y":0.232,"g":"none"},{"x":0.22,"y":0.238,"g":"none"},{"x":0.242,"y":0.232,"g":"none"},{"x":0.268,"y":0.237,"g":"none"},{"x":0.3,"y":0.232,"g":"none"},{"x":0.34,"y":0.238,"g":"none"},{"x":0.39,"y":0.232,"g":"none"},{"x":0.45,"y":0.236,"g":"none"},{"x":0.53,"y":0.232,"g":"none"},
      {"x":0.085,"y":0.21,"g":"none"},{"x":0.11,"y":0.207,"g":"none"},{"x":0.125,"y":0.213,"g":"none"},{"x":0.145,"y":0.207,"g":"none"},{"x":0.16,"y":0.212,"g":"none"},{"x":0.177,"y":0.207,"g":"none"},{"x":0.198,"y":0.212,"g":"none"},{"x":0.22,"y":0.207,"g":"none"},{"x":0.245,"y":0.212,"g":"none"},{"x":0.28,"y":0.207,"g":"none"},{"x":0.31,"y":0.212,"g":"none"},{"x":0.35,"y":0.207,"g":"none"},{"x":0.4,"y":0.212,"g":"none"},{"x":0.46,"y":0.207,"g":"none"},
      {"x":0.095,"y":0.185,"g":"none"},{"x":0.12,"y":0.188,"g":"none"},{"x":0.138,"y":0.183,"g":"none"},{"x":0.155,"y":0.188,"g":"none"},{"x":0.172,"y":0.183,"g":"none"},{"x":0.19,"y":0.188,"g":"none"},{"x":0.215,"y":0.183,"g":"none"},{"x":0.24,"y":0.188,"g":"none"},{"x":0.265,"y":0.183,"g":"none"},{"x":0.3,"y":0.188,"g":"none"},{"x":0.335,"y":0.183,"g":"none"},{"x":0.38,"y":0.188,"g":"none"},{"x":0.43,"y":0.183,"g":"none"},{"x":0.5,"y":0.187,"g":"none"},
      {"x":0.105,"y":0.163,"g":"none"},{"x":0.13,"y":0.166,"g":"none"},{"x":0.145,"y":0.161,"g":"none"},{"x":0.16,"y":0.166,"g":"none"},{"x":0.18,"y":0.161,"g":"none"},{"x":0.2,"y":0.166,"g":"none"},{"x":0.23,"y":0.161,"g":"none"},{"x":0.255,"y":0.166,"g":"none"},{"x":0.283,"y":0.161,"g":"none"},{"x":0.31,"y":0.166,"g":"none"},{"x":0.35,"y":0.161,"g":"none"},{"x":0.4,"y":0.166,"g":"none"},{"x":0.46,"y":0.162,"g":"none"},
      {"x":0.13,"y":0.145,"g":"none"},{"x":0.148,"y":0.141,"g":"none"},{"x":0.175,"y":0.146,"g":"none"},{"x":0.195,"y":0.141,"g":"none"},{"x":0.22,"y":0.146,"g":"none"},{"x":0.245,"y":0.141,"g":"none"},{"x":0.27,"y":0.146,"g":"none"},{"x":0.3,"y":0.141,"g":"none"},{"x":0.34,"y":0.146,"g":"none"},{"x":0.39,"y":0.141,"g":"none"},{"x":0.44,"y":0.145,"g":"none"},
      {"x":0.145,"y":0.13,"g":"none"},{"x":0.165,"y":0.127,"g":"none"},{"x":0.18,"y":0.132,"g":"none"},{"x":0.2,"y":0.127,"g":"none"},{"x":0.215,"y":0.132,"g":"none"},{"x":0.24,"y":0.127,"g":"none"},{"x":0.265,"y":0.132,"g":"none"},{"x":0.3,"y":0.127,"g":"none"},{"x":0.35,"y":0.131,"g":"none"},{"x":0.42,"y":0.128,"g":"none"},
      {"x":0.17,"y":0.112,"g":"none"},{"x":0.195,"y":0.109,"g":"none"},{"x":0.22,"y":0.114,"g":"none"},{"x":0.255,"y":0.109,"g":"none"},{"x":0.29,"y":0.114,"g":"none"},{"x":0.33,"y":0.109,"g":"none"},{"x":0.37,"y":0.113,"g":"none"},
      {"x":0.18,"y":0.09,"g":"none"},{"x":0.21,"y":0.092,"g":"none"},{"x":0.25,"y":0.089,"g":"none"},{"x":0.32,"y":0.092,"g":"none"},{"x":0.38,"y":0.089,"g":"none"},

      {"x":1.23,"y":5.11,"g":"up"},{"x":1.41,"y":4.49,"g":"up"},{"x":2.6,"y":4.82,"g":"up"},{"x":2.7,"y":4.94,"g":"up"},{"x":2.78,"y":4.92,"g":"up"},{"x":2.67,"y":4.36,"g":"up"},
      {"x":2.37,"y":4.02,"g":"up"},{"x":2.44,"y":3.96,"g":"up"},{"x":2.53,"y":3.87,"g":"up"},{"x":3.35,"y":3.69,"g":"up"},{"x":2.38,"y":3.35,"g":"up"},{"x":2.26,"y":2.94,"g":"up"},
      {"x":1.97,"y":2.46,"g":"up"},{"x":1.91,"y":2.28,"g":"up"},{"x":1.88,"y":2.21,"g":"up"},{"x":1.84,"y":2.08,"g":"up"},{"x":1.81,"y":2.02,"g":"up"},{"x":1.93,"y":1.87,"g":"up"},
      {"x":1.99,"y":1.71,"g":"up"},{"x":3.47,"y":2.54,"g":"up"},{"x":4.07,"y":1.28,"g":"up"},{"x":1.59,"y":1.69,"g":"up"},{"x":1.49,"y":1.62,"g":"up"},{"x":1.27,"y":1.8,"g":"up"},
      {"x":1.44,"y":1.45,"g":"up"},{"x":1.45,"y":1.4,"g":"up"},{"x":1.11,"y":1.45,"g":"up"},{"x":1.22,"y":1.33,"g":"up"},{"x":1.26,"y":1.15,"g":"up"},{"x":1.25,"y":1.1,"g":"up"},
      {"x":0.975,"y":1.5,"g":"up"},{"x":0.897,"y":1.65,"g":"up"},{"x":0.835,"y":1.65,"g":"up"},{"x":0.748,"y":1.47,"g":"up"},{"x":0.748,"y":2.19,"g":"up"},{"x":0.606,"y":2.23,"g":"up"},
      {"x":0.557,"y":2.05,"g":"up"},{"x":0.641,"y":1.49,"g":"up"},{"x":0.503,"y":1.32,"g":"up"},{"x":0.535,"y":1.06,"g":"up"},{"x":0.679,"y":1.15,"g":"up"},{"x":0.33,"y":1.28,"g":"up"},
      {"x":0.314,"y":0.944,"g":"up"},{"x":0.48,"y":1.03,"g":"up"},{"x":0.581,"y":0.887,"g":"up"},{"x":0.612,"y":0.9,"g":"up"},{"x":0.644,"y":0.825,"g":"up"},{"x":0.715,"y":0.887,"g":"up"},
      {"x":0.733,"y":0.845,"g":"up"},{"x":0.793,"y":0.825,"g":"up"},{"x":0.975,"y":1.05,"g":"up"},{"x":1.0,"y":1.01,"g":"up"},{"x":0.96,"y":0.977,"g":"up"},{"x":1.08,"y":0.931,"g":"up"},
      {"x":1.15,"y":0.887,"g":"up"},{"x":1.08,"y":0.825,"g":"up"},{"x":1.2,"y":0.787,"g":"up"},{"x":1.33,"y":0.825,"g":"up"},{"x":1.29,"y":0.732,"g":"up"},{"x":1.23,"y":0.675,"g":"up"},
      {"x":1.15,"y":0.698,"g":"up"},{"x":1.51,"y":0.715,"g":"up"},{"x":1.77,"y":0.688,"g":"up"},{"x":1.76,"y":0.9,"g":"up"},{"x":1.81,"y":1.17,"g":"up"},{"x":1.96,"y":0.887,"g":"up"},
      {"x":1.99,"y":0.853,"g":"up"},{"x":2.08,"y":0.917,"g":"up"},{"x":2.29,"y":1.02,"g":"up"},{"x":2.38,"y":0.9,"g":"up"},{"x":2.87,"y":0.668,"g":"up"},{"x":4.48,"y":0.428,"g":"up"},
      {"x":0.839,"y":0.825,"g":"up"},{"x":0.879,"y":0.75,"g":"up"},{"x":0.793,"y":0.715,"g":"up"},{"x":0.857,"y":0.649,"g":"up"},{"x":0.835,"y":0.59,"g":"up"},{"x":0.95,"y":0.576,"g":"up"},
      {"x":1.03,"y":0.604,"g":"up"},{"x":1.02,"y":0.511,"g":"up"},{"x":0.99,"y":0.511,"g":"up"},{"x":1.17,"y":0.464,"g":"up"},{"x":1.16,"y":0.453,"g":"up"},{"x":1.06,"y":0.393,"g":"up"},
      {"x":0.888,"y":0.46,"g":"up"},{"x":0.78,"y":0.541,"g":"up"},{"x":0.753,"y":0.619,"g":"up"},{"x":0.715,"y":0.649,"g":"up"},{"x":0.686,"y":0.59,"g":"up"},{"x":0.655,"y":0.688,"g":"up"},
      {"x":0.628,"y":0.619,"g":"up"},{"x":0.566,"y":0.787,"g":"up"},{"x":0.552,"y":0.698,"g":"up"},{"x":0.511,"y":0.715,"g":"up"},{"x":0.503,"y":0.619,"g":"up"},{"x":0.473,"y":0.825,"g":"up"},
      {"x":0.426,"y":0.619,"g":"up"},{"x":0.461,"y":0.576,"g":"up"},{"x":0.485,"y":0.536,"g":"up"},{"x":0.511,"y":0.511,"g":"up"},{"x":0.538,"y":0.442,"g":"up"},{"x":0.566,"y":0.511,"g":"up"},
      {"x":0.612,"y":0.487,"g":"up"},{"x":0.628,"y":0.402,"g":"up"},{"x":0.733,"y":0.453,"g":"up"},{"x":0.715,"y":0.422,"g":"up"},{"x":0.773,"y":0.345,"g":"up"},{"x":0.679,"y":0.321,"g":"up"},
      {"x":0.552,"y":0.374,"g":"up"},{"x":0.498,"y":0.393,"g":"up"},{"x":0.485,"y":0.34,"g":"up"},{"x":0.442,"y":0.402,"g":"up"},{"x":0.426,"y":0.422,"g":"up"},{"x":0.395,"y":0.412,"g":"up"},
      {"x":0.361,"y":0.412,"g":"up"},{"x":0.347,"y":0.365,"g":"up"},{"x":0.338,"y":0.511,"g":"up"},{"x":0.305,"y":0.557,"g":"up"},{"x":0.29,"y":0.499,"g":"up"},{"x":0.26,"y":0.499,"g":"up"},
      {"x":0.311,"y":0.511,"g":"up"},{"x":0.385,"y":0.464,"g":"up"},{"x":0.405,"y":0.619,"g":"up"},{"x":0.644,"y":0.536,"g":"up"},{"x":0.902,"y":0.604,"g":"up"},{"x":0.826,"y":0.715,"g":"up"},
      {"x":1.09,"y":0.787,"g":"up"},{"x":1.26,"y":0.787,"g":"up"},{"x":0.975,"y":0.715,"g":"up"},

      {"x":0.0272,"y":0.117,"g":"down"},{"x":0.0319,"y":0.117,"g":"down"},{"x":0.0759,"y":0.2,"g":"down"},{"x":0.0759,"y":0.182,"g":"down"},{"x":0.0725,"y":0.15,"g":"down"},
      {"x":0.0847,"y":0.148,"g":"down"},{"x":0.0859,"y":0.142,"g":"down"},{"x":0.0905,"y":0.143,"g":"down"},{"x":0.0881,"y":0.132,"g":"down"},{"x":0.1,"y":0.143,"g":"down"},
      {"x":0.107,"y":0.147,"g":"down"},{"x":0.11,"y":0.158,"g":"down"},{"x":0.117,"y":0.162,"g":"down"},{"x":0.123,"y":0.154,"g":"down"},{"x":0.133,"y":0.15,"g":"down"},
      {"x":0.137,"y":0.162,"g":"down"},{"x":0.14,"y":0.154,"g":"down"},{"x":0.152,"y":0.137,"g":"down"},{"x":0.164,"y":0.139,"g":"down"},{"x":0.177,"y":0.137,"g":"down"},
      {"x":0.185,"y":0.121,"g":"down"},{"x":0.14,"y":0.13,"g":"down"},{"x":0.13,"y":0.124,"g":"down"},{"x":0.123,"y":0.121,"g":"down"},{"x":0.117,"y":0.127,"g":"down"},
      {"x":0.111,"y":0.121,"g":"down"},{"x":0.106,"y":0.115,"g":"down"},{"x":0.1,"y":0.124,"g":"down"},{"x":0.0977,"y":0.121,"g":"down"},{"x":0.0953,"y":0.13,"g":"down"},
      {"x":0.0859,"y":0.13,"g":"down"},{"x":0.0816,"y":0.124,"g":"down"},{"x":0.0755,"y":0.113,"g":"down"},{"x":0.07,"y":0.11,"g":"down"},{"x":0.0614,"y":0.105,"g":"down"},
      {"x":0.0554,"y":0.115,"g":"down"},{"x":0.0513,"y":0.102,"g":"down"},{"x":0.0554,"y":0.0953,"g":"down"},{"x":0.0546,"y":0.0879,"g":"down"},{"x":0.07,"y":0.0931,"g":"down"},
      {"x":0.0736,"y":0.0908,"g":"down"},{"x":0.0795,"y":0.1,"g":"down"},{"x":0.0838,"y":0.102,"g":"down"},{"x":0.0881,"y":0.0931,"g":"down"},{"x":0.0905,"y":0.0887,"g":"down"},
      {"x":0.0929,"y":0.0845,"g":"down"},{"x":0.0881,"y":0.0806,"g":"down"},{"x":0.0851,"y":0.0779,"g":"down"},{"x":0.0988,"y":0.0833,"g":"down"},{"x":0.108,"y":0.0887,"g":"down"},
      {"x":0.111,"y":0.0794,"g":"down"},{"x":0.116,"y":0.0953,"g":"down"},{"x":0.123,"y":0.105,"g":"down"},{"x":0.13,"y":0.11,"g":"down"},{"x":0.133,"y":0.0908,"g":"down"},
      {"x":0.139,"y":0.0977,"g":"down"},{"x":0.143,"y":0.074,"g":"down"},{"x":0.133,"y":0.0722,"g":"down"},{"x":0.123,"y":0.0681,"g":"down"},{"x":0.12,"y":0.059,"g":"down"},
      {"x":0.135,"y":0.0518,"g":"down"},{"x":0.182,"y":0.0518,"g":"down"},{"x":0.0681,"y":0.0453,"g":"down"},{"x":0.0599,"y":0.0576,"g":"down"},{"x":0.0462,"y":0.0582,"g":"down"},
      {"x":0.0376,"y":0.0457,"g":"down"},{"x":0.0535,"y":0.0378,"g":"down"},{"x":0.1,"y":0.11,"g":"down"},{"x":0.106,"y":0.102,"g":"down"},{"x":0.114,"y":0.107,"g":"down"},
      {"x":0.12,"y":0.115,"g":"down"},{"x":0.0816,"y":0.107,"g":"down"},{"x":0.0755,"y":0.0845,"g":"down"},{"x":0.0953,"y":0.0977,"g":"down"}
    ]
  },
  "layer": [
    {
      "layer": [
        {
          "data": {"values": [{}]},
          "mark": {"type": "rect", "fillOpacity": 0, "stroke": "#d4d4d4", "strokeWidth": 1.5},
          "encoding": {
            "x": {"datum": 0.07847, "type": "quantitative", "scale": {"type": "log", "domain": [0.1, 1000], "range": [52, 622], "nice": false}},
            "x2": {"datum": 1426.9},
            "y": {"datum": 111.5, "type": "quantitative", "scale": {"type": "log", "domain": [0.1, 100], "range": [452, 8], "nice": false}},
            "y2": {"datum": 0.08557}
          }
        },
        {
          "data": {"name": "grid1"},
          "transform": [{"filter": "datum.kind == 'grid'"}],
          "mark": {"type": "rule", "color": "#dcdcdc", "strokeWidth": 1.2},
          "encoding": {
            "x": {"field": "x", "type": "quantitative"},
            "x2": {"field": "x2"},
            "y": {"field": "y", "type": "quantitative"},
            "y2": {"field": "y2"}
          }
        },
        {
          "data": {"name": "grid1"},
          "transform": [{"filter": "datum.kind == 'axis'"}],
          "mark": {"type": "rule", "color": "#c8c8c8", "strokeWidth": 1.6},
          "encoding": {
            "x": {"field": "x", "type": "quantitative"},
            "x2": {"field": "x2"},
            "y": {"field": "y", "type": "quantitative"},
            "y2": {"field": "y2"}
          }
        },
        {
          "data": {"name": "lib1"},
          "mark": {"type": "circle", "size": 28, "opacity": 1},
          "encoding": {
            "x": {"field": "x", "type": "quantitative", "axis": {"title": "TRα1 response", "orient": "bottom", "offset": -1165, "values": [0.1, 1, 10, 100, 1000], "format": ".1f", "grid": false, "ticks": false, "domain": false, "labelPadding": 8, "labelFontSize": 10, "labelColor": "#7f7f7f", "labelFlush": false, "labelOverlap": false, "titleFontSize": 28, "titleFontWeight": "normal", "titleColor": "#000000", "titleX": 331, "titleY": 149, "titleBaseline": "alphabetic", "titleAlign": "center"}},
            "y": {"field": "y", "type": "quantitative", "axis": {"title": "TRβ1 response", "orient": "left", "offset": -194, "values": [0.1, 1, 10, 100], "format": ".1f", "grid": false, "ticks": false, "domain": false, "labelPadding": 7, "labelFontSize": 10, "labelColor": "#7f7f7f", "labelFlush": false, "labelOverlap": false, "titleFontSize": 28, "titleFontWeight": "normal", "titleColor": "#000000", "titleX": -130, "titleY": 111.5, "titleAngle": -90, "titleBaseline": "alphabetic", "titleAlign": "center"}},
            "color": {"field": "a", "type": "nominal", "scale": {"domain": ["up", "down", "none"], "range": ["#ff0000", "#00b050", "#d9d9d9"]}, "legend": null}
          }
        },
        {
          "data": {"values": [{}]},
          "mark": {"type": "text", "text": "T3 response Library 1", "align": "left", "baseline": "alphabetic", "fontSize": 28, "color": "#000000"},
          "encoding": {"x": {"datum": 0.2355, "type": "quantitative"}, "y": {"datum": 59.8, "type": "quantitative"}}
        },
        {
          "data": {"values": [{}]},
          "mark": {"type": "text", "text": "A", "align": "left", "baseline": "alphabetic", "fontSize": 39, "color": "#000000"},
          "encoding": {"x": {"datum": 0.04315, "type": "quantitative"}, "y": {"datum": 64.7, "type": "quantitative"}}
        }
      ]
    },
    {
      "layer": [
        {
          "data": {"values": [{}]},
          "mark": {"type": "rect", "fillOpacity": 0, "stroke": "#d4d4d4", "strokeWidth": 1.5},
          "encoding": {
            "x": {"datum": 0.07847, "type": "quantitative", "scale": {"type": "log", "domain": [0.1, 1000], "range": [52, 622], "nice": false}},
            "x2": {"datum": 1426.9},
            "y": {"datum": 113.2, "type": "quantitative", "scale": {"type": "log", "domain": [0.1, 100], "range": [939, 495], "nice": false}},
            "y2": {"datum": 0.08694}
          }
        },
        {
          "data": {"name": "grid1"},
          "transform": [{"filter": "datum.kind == 'grid'"}],
          "mark": {"type": "rule", "color": "#dcdcdc", "strokeWidth": 1.2},
          "encoding": {
            "x": {"field": "x", "type": "quantitative"},
            "x2": {"field": "x2"},
            "y": {"field": "y", "type": "quantitative"},
            "y2": {"field": "y2"}
          }
        },
        {
          "data": {"name": "grid1"},
          "transform": [{"filter": "datum.kind == 'axis'"}],
          "mark": {"type": "rule", "color": "#c8c8c8", "strokeWidth": 1.6},
          "encoding": {
            "x": {"field": "x", "type": "quantitative"},
            "x2": {"field": "x2"},
            "y": {"field": "y", "type": "quantitative"},
            "y2": {"field": "y2"}
          }
        },
        {
          "data": {"name": "lib1"},
          "mark": {"type": "circle", "size": 28, "opacity": 1},
          "encoding": {
            "x": {"field": "x", "type": "quantitative", "axis": {"title": "TRα1 response", "orient": "bottom", "offset": -678, "values": [0.1, 1, 10, 100, 1000], "format": ".1f", "grid": false, "ticks": false, "domain": false, "labelPadding": 8, "labelFontSize": 10, "labelColor": "#7f7f7f", "labelFlush": false, "labelOverlap": false, "titleFontSize": 28, "titleFontWeight": "normal", "titleColor": "#000000", "titleX": 331, "titleY": 125, "titleBaseline": "alphabetic", "titleAlign": "center"}},
            "y": {"field": "y", "type": "quantitative", "axis": {"title": "TRβ1 response", "orient": "left", "offset": -194, "values": [0.1, 1, 10, 100], "format": ".1f", "grid": false, "ticks": false, "domain": false, "labelPadding": 7, "labelFontSize": 10, "labelColor": "#7f7f7f", "labelFlush": false, "labelOverlap": false, "titleFontSize": 28, "titleFontWeight": "normal", "titleColor": "#000000", "titleX": -130, "titleY": 603.7, "titleAngle": -90, "titleBaseline": "alphabetic", "titleAlign": "center"}},
            "color": {"field": "b", "type": "nominal", "scale": {"domain": ["dr4", "up", "down", "none"], "range": ["#1f3864", "#f4b183", "#a9d18e", "#d9d9d9"]}, "legend": null}
          }
        },
        {
          "data": {"values": [{}]},
          "mark": {"type": "text", "text": "Influence of DR4 element", "align": "left", "baseline": "alphabetic", "fontSize": 28, "color": "#000000"},
          "encoding": {"x": {"datum": 0.673, "type": "quantitative"}, "y": {"datum": 64.7, "type": "quantitative"}}
        },
        {
          "data": {"values": [{}]},
          "mark": {"type": "text", "text": "B", "align": "left", "baseline": "alphabetic", "fontSize": 39, "color": "#000000"},
          "encoding": {"x": {"datum": 0.04315, "type": "quantitative"}, "y": {"datum": 91.1, "type": "quantitative"}}
        }
      ]
    },
    {
      "layer": [
        {
          "data": {"values": [{}]},
          "mark": {"type": "rect", "fillOpacity": 0, "stroke": "#d4d4d4", "strokeWidth": 1.5},
          "encoding": {
            "x": {"datum": 0.007223, "type": "quantitative", "scale": {"type": "log", "domain": [0.01, 10], "range": [63, 615], "nice": false}},
            "x2": {"datum": 14.375},
            "y": {"datum": 12.232, "type": "quantitative", "scale": {"type": "log", "domain": [0.01, 10], "range": [1453, 973], "nice": false}},
            "y2": {"datum": 0.008175}
          }
        },
        {
          "data": {"name": "grid2"},
          "transform": [{"filter": "datum.kind == 'grid'"}],
          "mark": {"type": "rule", "color": "#dcdcdc", "strokeWidth": 1.2},
          "encoding": {
            "x": {"field": "x", "type": "quantitative"},
            "x2": {"field": "x2"},
            "y": {"field": "y", "type": "quantitative"},
            "y2": {"field": "y2"}
          }
        },
        {
          "data": {"name": "grid2"},
          "transform": [{"filter": "datum.kind == 'axis'"}],
          "mark": {"type": "rule", "color": "#bdbdbd", "strokeWidth": 1.6},
          "encoding": {
            "x": {"field": "x", "type": "quantitative"},
            "x2": {"field": "x2"},
            "y": {"field": "y", "type": "quantitative"},
            "y2": {"field": "y2"}
          }
        },
        {
          "data": {"name": "lib2"},
          "mark": {"type": "circle", "size": 23, "opacity": 1},
          "encoding": {
            "x": {"field": "x", "type": "quantitative", "axis": {"title": "TRα1 response", "orient": "bottom", "offset": -336, "values": [0.01, 0.1, 1, 10], "format": ".2f", "grid": false, "ticks": false, "domain": false, "labelPadding": 13, "labelFontSize": 13, "labelFont": "Liberation Serif", "labelColor": "#7f7f7f", "labelFlush": false, "labelOverlap": false, "titleFontSize": 28, "titleFontWeight": "normal", "titleColor": "#000000", "titleX": 331, "titleY": 304, "titleBaseline": "alphabetic", "titleAlign": "center"}},
            "y": {"field": "y", "type": "quantitative", "axis": {"title": "TRβ1 response", "orient": "left", "offset": -431, "values": [0.01, 0.1, 1, 10], "format": ".2f", "grid": false, "ticks": false, "domain": false, "labelPadding": 12, "labelFontSize": 13, "labelFont": "Liberation Serif", "labelColor": "#7f7f7f", "labelFlush": false, "labelOverlap": false, "titleFontSize": 28, "titleFontWeight": "normal", "titleColor": "#000000", "titleX": -367, "titleY": 1066.5, "titleAngle": -90, "titleBaseline": "alphabetic", "titleAlign": "center"}},
            "color": {"field": "g", "type": "nominal", "scale": {"domain": ["up", "down", "none"], "range": ["#ff0000", "#00b050", "#bfbfbf"]}, "legend": null}
          }
        },
        {
          "data": {"values": [{}]},
          "mark": {"type": "text", "text": "T3 response Library 2", "align": "left", "baseline": "alphabetic", "fontSize": 28, "color": "#000000"},
          "encoding": {"x": {"datum": 0.01778, "type": "quantitative"}, "y": {"datum": 4.598, "type": "quantitative"}}
        },
        {
          "data": {"values": [{}]},
          "mark": {"type": "text", "text": "C", "align": "left", "baseline": "alphabetic", "fontSize": 39, "color": "#000000"},
          "encoding": {"x": {"datum": 0.004546, "type": "quantitative"}, "y": {"datum": 6.31, "type": "quantitative"}}
        }
      ]
    }
  ]
}
